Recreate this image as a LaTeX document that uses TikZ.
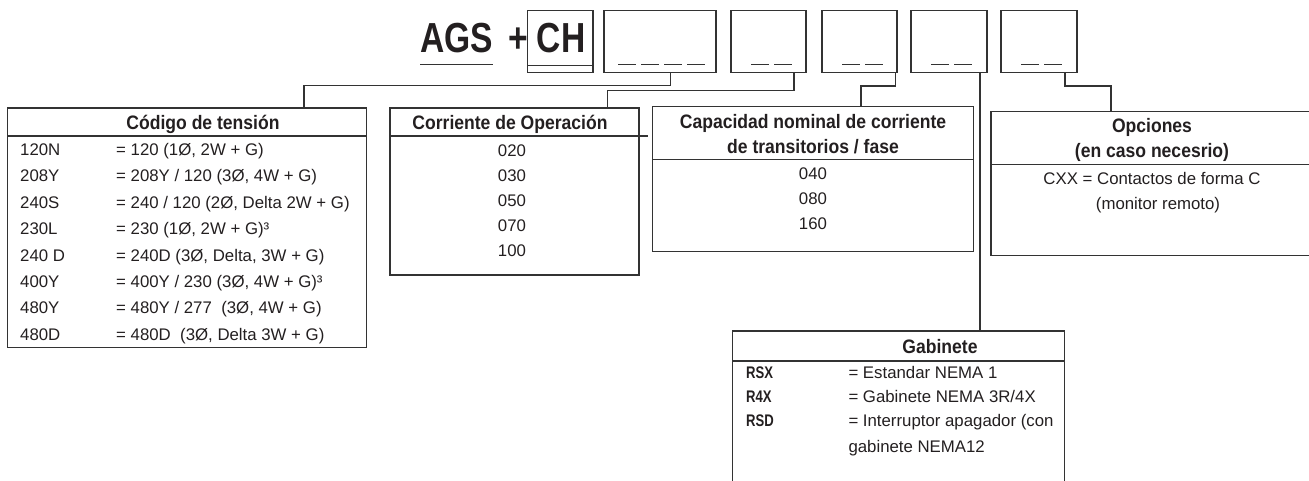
\documentclass[tikz,border=0pt]{standalone}
\usepackage{fontspec}
\setmainfont{Liberation Sans}
\newfontfamily\hdrfam[FakeStretch=0.9]{Liberation Sans}
\newfontfamily\codefam[FakeStretch=0.78]{Liberation Sans}
\newfontfamily\ttlfam[FakeStretch=0.8]{Liberation Sans}
\definecolor{linec}{HTML}{333333}
\definecolor{txtc}{HTML}{231F20}
\newcommand\regf{\fontsize{16.8}{20}\selectfont}
\newcommand\hdrf{\hdrfam\bfseries\fontsize{19.5}{23}\selectfont}
\newcommand\codef{\codefam\bfseries\fontsize{16.8}{20}\selectfont}
\newcommand\ttlf{\ttlfam\bfseries\fontsize{42}{46}\selectfont}
\begin{document}
\begin{tikzpicture}[x=1pt,y=-1pt,
  ln/.style={draw=linec, line width=1.3pt},
  box/.style={draw=linec, line width=1.3pt, rectangle, inner sep=0pt, outer sep=0pt, anchor=north west},
  dsh/.style={draw=linec, line width=1.3pt, dash pattern=on 18pt off 5pt},
  reg/.style={font=\regf, text=txtc, inner sep=0pt, anchor=base west},
  regc/.style={font=\regf, text=txtc, inner sep=0pt, anchor=base},
  hdr/.style={font=\hdrf, text=txtc, inner sep=0pt, anchor=base},
  cde/.style={font=\codef, text=txtc, inner sep=0pt, anchor=base west},
  ttl/.style={font=\ttlf, text=txtc, inner sep=0pt}]
\useasboundingbox (0,0) rectangle (1309,480);

% ---- title and code boxes
\node[ttl, anchor=base west] (ags) at (420,52) {AGS};
\node[ttl, anchor=base] (plus) at (518,52) {+};
\node[box, minimum width=65.3pt, minimum height=62pt] (ch) at (527.7,10.7) {};
\node[ttl, anchor=base] (chtxt) at (561,52) {CH};
\draw[ln] ([yshift=7pt]ch.south west) -- ([yshift=7pt]ch.south east);
\draw[ln] ([yshift=-12.3pt]ags.base west) -- ([yshift=-12.3pt]ags.base east);

\node[box, minimum width=112pt, minimum height=62pt] (b1) at (604,10.7) {};
\node[box, minimum width=75pt, minimum height=62pt] (b2) at (731,10.7) {};
\node[box, minimum width=75pt, minimum height=62pt] (b3) at (822,10.7) {};
\node[box, minimum width=76pt, minimum height=62pt] (b4) at (911,10.7) {};
\node[box, minimum width=76pt, minimum height=62pt] (b5) at (1001,10.7) {};

\draw[dsh] ([xshift=14pt,yshift=8pt]b1.south west) -- ++(87,0);
\draw[dsh] ([xshift=20pt,yshift=8pt]b2.south west) -- ++(41,0);
\draw[dsh] ([xshift=20pt,yshift=8pt]b3.south west) -- ++(41,0);
\draw[dsh] ([xshift=20pt,yshift=8pt]b4.south west) -- ++(41,0);
\draw[dsh] ([xshift=20pt,yshift=8pt]b5.south west) -- ++(41,0);

% ---- Codigo de tension
\node[box, minimum width=359pt, minimum height=239.3pt] (cod) at (7.3,108) {};
\draw[ln] ([yshift=-28pt]cod.north west) -- ([yshift=-28pt]cod.north east);
\node[hdr] (codh) at (203,129) {Código de tensión};
\node[reg] (c1) at (20,155.5) {120N};
\node[reg] (v1) at (116,155.5) {= 120 (1Ø, 2W + G)};
\node[reg] (c2) at (20,181.9) {208Y};
\node[reg] (v2) at (116,181.9) {= 208Y / 120 (3Ø, 4W + G)};
\node[reg] (c3) at (20,208.3) {240S};
\node[reg] (v3) at (116,208.3) {= 240 / 120 (2Ø, Delta 2W + G)};
\node[reg] (c4) at (20,234.7) {230L};
\node[reg] (v4) at (116,234.7) {= 230 (1Ø, 2W + G)³};
\node[reg] (c5) at (20,261.1) {240 D};
\node[reg] (v5) at (116,261.1) {= 240D (3Ø, Delta, 3W + G)};
\node[reg] (c6) at (20,287.5) {400Y};
\node[reg] (v6) at (116,287.5) {= 400Y / 230 (3Ø, 4W + G)³};
\node[reg] (c7) at (20,313.9) {480Y};
\node[reg] (v7) at (116,313.9) {= 480Y / 277~ (3Ø, 4W + G)};
\node[reg] (c8) at (20,340.3) {480D};
\node[reg] (v8) at (116,340.3) {= 480D~ (3Ø, Delta 3W + G)};

% ---- Corriente de Operacion
\node[box, minimum width=249pt, minimum height=167pt] (cor) at (390,108) {};
\draw[ln] ([yshift=-28pt]cor.north west) -- ++(258,0);
\node[hdr] (corh) at (510,129) {Corriente de Operación};
\node[regc] (o1) at (512,156) {020};
\node[regc] (o2) at (512,181) {030};
\node[regc] (o3) at (512,206) {050};
\node[regc] (o4) at (512,231) {070};
\node[regc] (o5) at (512,256) {100};

% ---- Capacidad nominal
\node[box, minimum width=320.6pt, minimum height=145pt] (cap) at (652.7,106.7) {};
\draw[ln] ([yshift=-52.6pt]cap.north west) -- ([yshift=-52.6pt]cap.north east);
\node[hdr] (caph1) at (813,128.7) {Capacidad nominal de corriente};
\node[hdr] (caph2) at (813,153.7) {de transitorios / fase};
\node[regc] (k1) at (813,179.3) {040};
\node[regc] (k2) at (813,204.3) {080};
\node[regc] (k3) at (813,229.3) {160};

% ---- Opciones
\node[box, minimum width=325pt, minimum height=144pt] (opc) at (991,111.7) {};
\draw[ln] ([yshift=-52.6pt]opc.north west) -- ([yshift=-52.6pt]opc.north east);
\node[hdr] (opch1) at (1152,132) {Opciones};
\node[hdr] (opch2) at (1152,157) {(en caso necesrio)};
\node[regc] (p1) at (1152,184.2) {CXX = Contactos de forma C};
\node[regc] (p2) at (1158,209.2) {(monitor remoto)};

% ---- Gabinete
\node[box, minimum width=332pt, minimum height=160pt] (gab) at (732.3,331) {};
\draw[ln] ([yshift=-30pt]gab.north west) -- ([yshift=-30pt]gab.north east);
\node[hdr] (gabh) at (940,353.5) {Gabinete};
\node[cde] (g1) at (746,378.6) {RSX};
\node[reg] (w1) at (848.3,378.6) {= Estandar NEMA 1};
\node[cde] (g2) at (746,402.6) {R4X};
\node[reg] (w2) at (848.3,402.6) {= Gabinete NEMA 3R/4X};
\node[cde] (g3) at (746,426.6) {RSD};
\node[reg] (w3) at (848.3,426.6) {= Interruptor apagador (con};
\node[reg] (w4) at (848.3,452.6) {gabinete NEMA12};

% ---- connectors
\draw[ln] ([xshift=66.7pt]b1.south west) -- ++(0,13) -| ([xshift=296.7pt]cod.north west);
\draw[ln] ([xshift=63pt]b2.south west) -- ++(0,18) -| ([xshift=217.5pt]cor.north west);
\draw[ln] ([xshift=73.7pt]b3.south west) -- ++(0,13.3) -| ([xshift=208.3pt]cap.north west);
\draw[ln] ([xshift=69pt]b4.south west) -- ([xshift=247.7pt]gab.north west);
\draw[ln] ([xshift=64pt]b5.south west) -- ++(0,13.3) -| ([xshift=120pt]opc.north west);
\end{tikzpicture}
\end{document}
